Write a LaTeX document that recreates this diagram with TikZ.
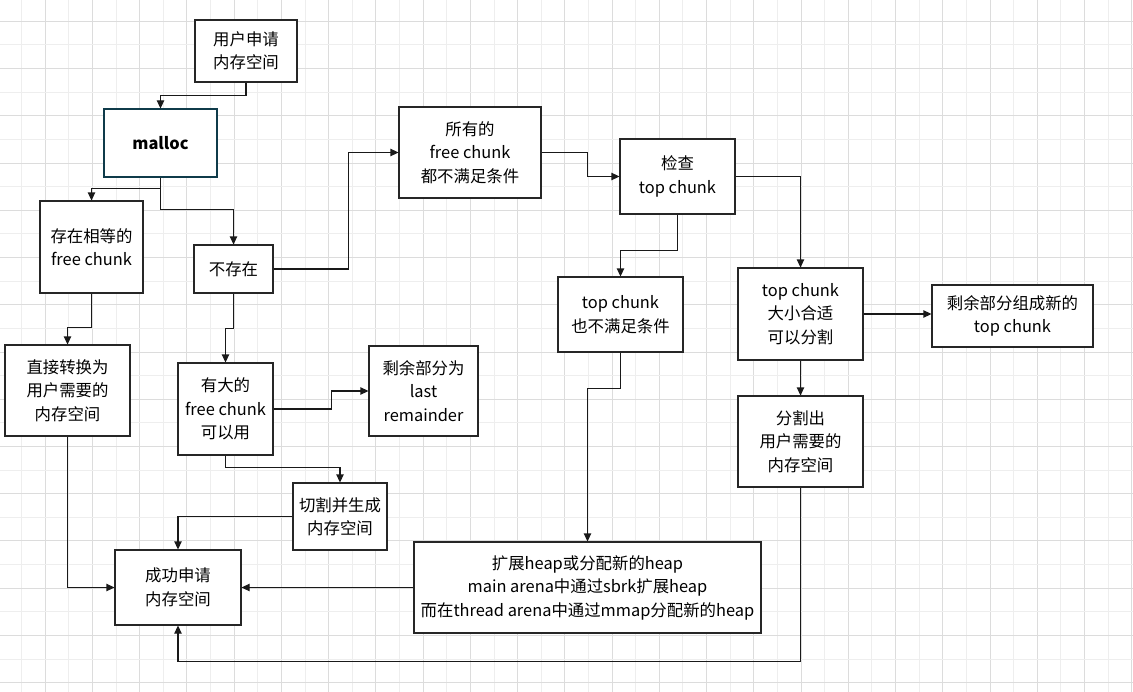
\documentclass[tikz,border=0pt]{standalone}
\usepackage{fontspec}
\setmainfont{Noto Sans CJK SC}
\usetikzlibrary{arrows.meta}
\definecolor{gridmajor}{HTML}{DCDCDC}
\definecolor{gridminor}{HTML}{EEEEEE}
\definecolor{malloccol}{HTML}{0F3B4A}
\tikzset{
  box/.style={draw=black!85, line width=0.8pt, inner sep=0pt, align=center,
    font=\fontsize{12.3pt}{17.6pt}\selectfont, fill=white},
  conn/.style={draw=black!90, line width=0.8pt, -{Triangle[length=6pt,width=5.5pt]}},
}
\begin{document}
\begin{tikzpicture}[x=0.75pt, y=-0.75pt]
            \useasboundingbox (0,0) rectangle (1133,692);
            \fill[white] (0,0) rectangle (1133,692);
            \foreach \i in {0,...,48} {
                \pgfmathsetmacro{\gx}{-2+23.62*\i}
                \ifodd\i
                    \draw[gridminor, line width=0.75pt] (\gx,0) -- (\gx,692);
                \else
                    \draw[gridmajor, line width=0.75pt] (\gx,0) -- (\gx,692);
                \fi
            }
            \foreach \j in {0,...,30} {
                \pgfmathsetmacro{\gy}{-2.3+23.62*\j}
                \ifodd\j
                    \draw[gridmajor, line width=0.75pt] (0,\gy) -- (1133,\gy);
                \else
                    \draw[gridminor, line width=0.75pt] (0,\gy) -- (1133,\gy);
                \fi
            }
            \node[box, minimum width=76.5pt, minimum height=46.5pt] (user) at (246,51) {用户申请\\内存空间};
            \node[box, draw=malloccol, minimum width=84.75pt, minimum height=51pt, font=\fontsize{12.3pt}{17.6pt}\selectfont\bfseries] (malloc) at (160.5,143) {malloc};
            \node[box, minimum width=77.25pt, minimum height=69pt] (equal) at (91.5,247) {存在相等的\\free chunk};
            \node[box, minimum width=59.25pt, minimum height=36pt] (absent) at (233.5,269) {不存在};
            \node[box, minimum width=106.5pt, minimum height=68.25pt] (allfail) at (470,152.5) {所有的\\free chunk\\都不满足条件};
            \node[box, minimum width=86.25pt, minimum height=56.25pt] (check) at (677.5,176.5) {检查\\top chunk};
            \node[box, minimum width=93.75pt, minimum height=68.25pt] (direct) at (67.5,390.5) {直接转换为\\用户需要的\\内存空间};
            \node[box, minimum width=71.25pt, minimum height=69pt] (bigfree) at (225.5,409) {有大的\\free chunk\\可以用};
            \node[box, minimum width=81.75pt, minimum height=67.5pt] (lastrem) at (423.5,391) {剩余部分为\\last\\remainder};
            \node[box, minimum width=93.75pt, minimum height=56.25pt] (topfail) at (620.5,314.5) {top chunk\\也不满足条件};
            \node[box, minimum width=93.75pt, minimum height=69pt] (topok) at (800.5,314) {top chunk\\大小合适\\可以分割};
            \node[box, minimum width=120.75pt, minimum height=46.5pt] (newtop) at (1012.5,316) {剩余部分组成新的\\top chunk};
            \node[box, minimum width=93.75pt, minimum height=68.25pt] (splitout) at (800.5,441.5) {分割出\\用户需要的\\内存空间};
            \node[box, minimum width=70.5pt, minimum height=50.25pt] (cut) at (340,516.5) {切割并生成\\内存空间};
            \node[box, minimum width=94.5pt, minimum height=56.25pt] (success) at (178,587.5) {成功申请\\内存空间};
            \node[box, minimum width=260.25pt, minimum height=68.25pt] (extend) at (587.5,587.5) {扩展heap或分配新的heap\\main arena中通过sbrk扩展heap\\而在thread arena中通过mmap分配新的heap};
            \draw[conn] (user.south) -- ++(0,13) -| (malloc.north);
            \draw[conn] (malloc.south) -- ++(0,11) -| (equal.north);
            \draw[conn] (malloc.south) -- ++(0,32) -| (absent.north);
            \draw[conn] (absent.east) -- ++(75,0) |- (allfail.west);
            \draw[conn] (allfail.east) -- ++(46,0) |- (check.west);
            \draw[conn] (check.south) -- ++(0,36) -| (topfail.north);
            \draw[conn] (check.east) -| (topok.north);
            \draw[conn] (topok.east) -- (topok.east -| newtop.west);
            \draw[conn] (topok.south) -- (splitout.north);
            \draw[conn] (equal.south) -- ++(0,34) -| (direct.north);
            \draw[conn] (absent.south) -- ++(0,35) -| (bigfree.north);
            \draw[conn] (bigfree.east) -- ++(58,0) |- (lastrem.west);
            \draw[conn] (bigfree.south) -- ++(0,12) -| (cut.north);
            \draw[conn] (cut.west) -| (success.north);
            \draw[conn] (direct.south) |- (success.west);
            \draw[conn] (extend.west) -- (success.east);
            \draw[conn] (topfail.south) -- ++(0,36) -| (extend.north);
            \draw[conn] (splitout.south) -- ++(0,174) -| (success.south);
        \end{tikzpicture}
\end{document}
